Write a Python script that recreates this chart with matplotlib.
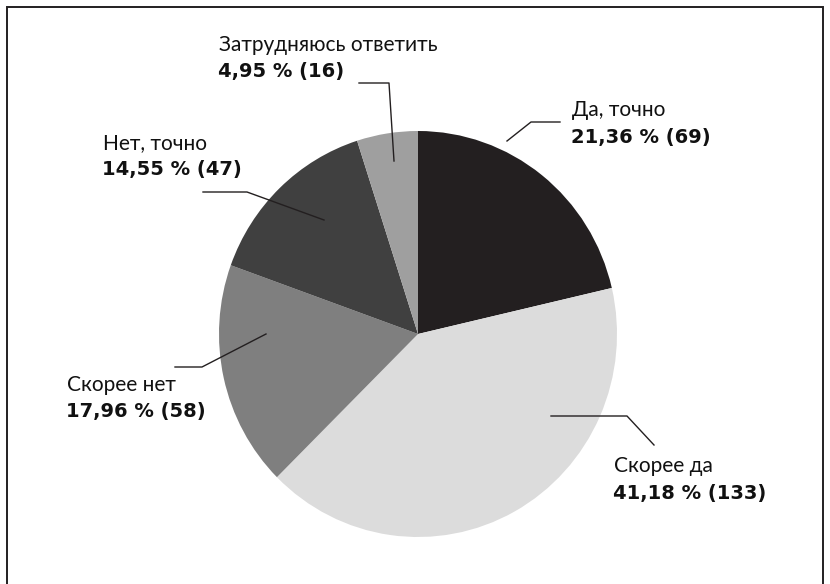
import matplotlib
matplotlib.use("Agg")
import matplotlib.pyplot as plt

# Survey answers, shares and respondent counts
categories = ["Да, точно", "Скорее да", "Скорее нет", "Нет, точно", "Затрудняюсь ответить"]
shares = [21.36, 41.18, 17.96, 14.55, 4.95]
counts = [69, 133, 58, 47, 16]
colors = ["#231f20", "#dcdcdc", "#7f7f7f", "#404040", "#9f9f9f"]

W, H = 830, 584
plt.rcParams["font.family"] = ["Lato", "DejaVu Sans"]
fig = plt.figure(figsize=(W / 100, H / 100), dpi=100)

# pie axes, placed in pixel terms
px_left, px_top, px_w, px_h = 219, 131, 398, 406
ax = fig.add_axes([px_left / W, (H - px_top - px_h) / H, px_w / W, px_h / H])
ax.pie(shares, colors=colors, startangle=90, counterclock=False,
       wedgeprops=dict(linewidth=0))
ax.set_aspect("auto")
ax.set_xlim(-1, 1)
ax.set_ylim(-1, 1)
ax.axis("off")

# overlay in pixel coordinates for frame, leaders and labels
ov = fig.add_axes([0, 0, 1, 1])
ov.set_xlim(0, W)
ov.set_ylim(H, 0)
ov.axis("off")

line_c = "#231f20"
# frame
ov.plot([7, 7, 823, 823], [H + 5, 7, 7, H + 5], color=line_c, lw=1.4, solid_joinstyle="miter")

# leader paths: (anchor in slice, elbow, end)
leaders = [
    [(507, 141), (531, 122), (560, 122)],
    [(551, 416), (627, 416), (654, 445)],
    [(266, 334), (202, 367), (175, 367)],
    [(324, 220), (247, 192), (203, 192)],
    [(394, 161), (389, 83), (359, 83)],
]
# label positions: left x, first-line center y
label_pos = [(572, 110), (614, 466), (67, 385), (103, 143), (219, 45)]

for (name, share, cnt, path, (lx, ly)) in zip(categories, shares, counts, leaders, label_pos):
    xs, ys = zip(*path)
    ov.plot(xs, ys, color=line_c, lw=1.0)
    ov.text(lx, ly, name, ha="left", va="center", fontsize=15, color="#111111")
    val = f"{share:.2f}".replace(".", ",") + f" % ({cnt})"
    ov.text(lx - 1, ly + 27, val, ha="left", va="center", fontsize=14,
            fontweight="bold", color="#111111", family=["DejaVu Sans"])

fig.savefig("out.png", dpi=100, facecolor="white")
